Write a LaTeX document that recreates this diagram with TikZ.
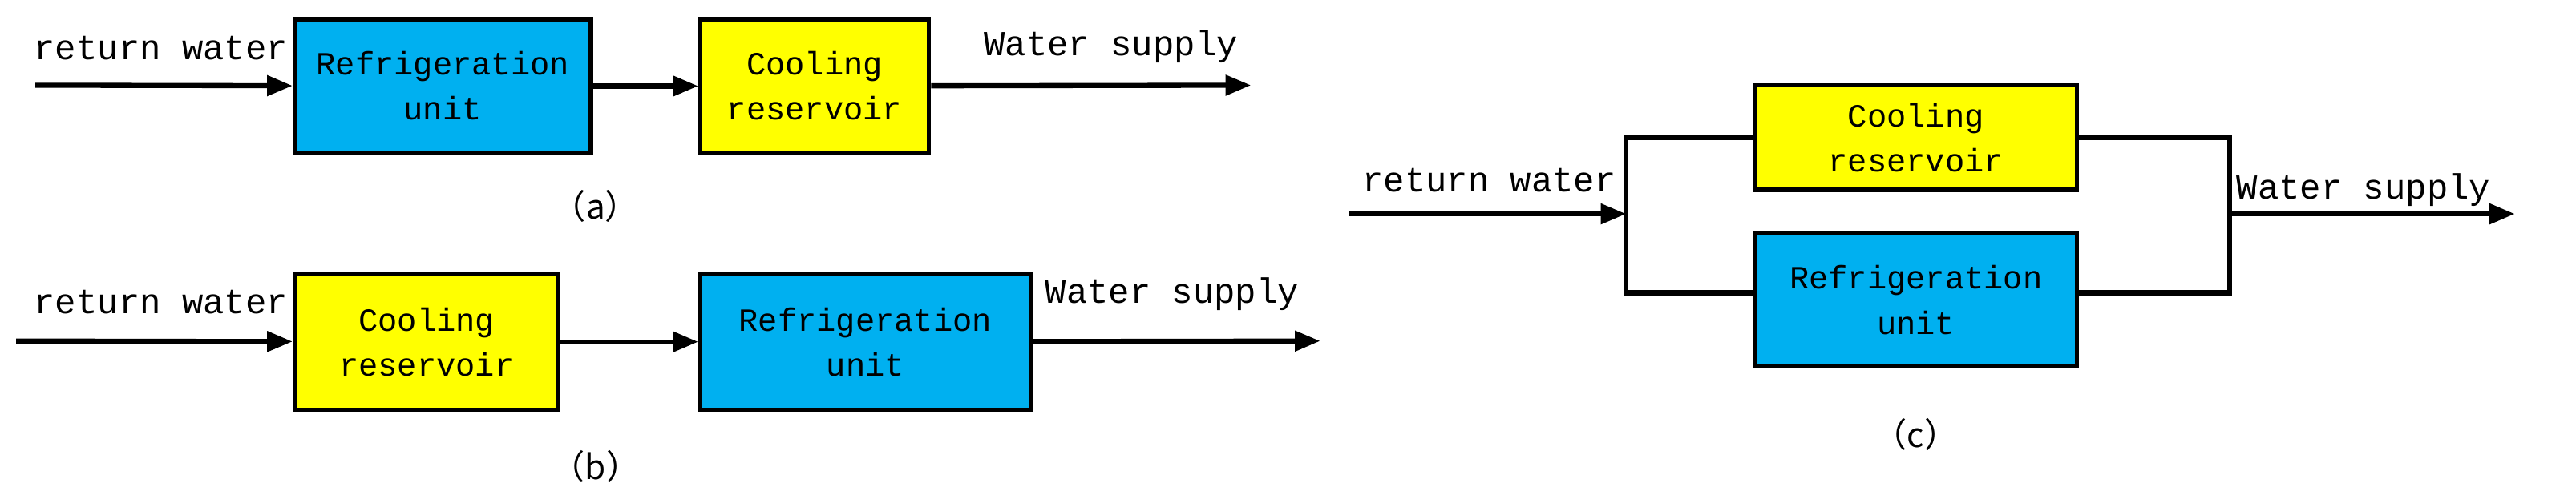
\documentclass[tikz,border=0pt]{standalone}
\usepackage{fontspec}
\setmainfont{Liberation Mono}
\newfontfamily\cjk{Noto Sans CJK SC}
\usetikzlibrary{arrows.meta}
\definecolor{cblue}{RGB}{0,176,240}
\definecolor{cyel}{RGB}{255,255,0}
\begin{document}
\begin{tikzpicture}[x=0.02008cm,y=-0.02008cm,
  font=\fontsize{12.5}{15}\selectfont,
  box/.style={draw=black,line width=1.5pt,align=center,inner sep=0pt,font=\fontsize{11.5}{16}\selectfont},
  ln/.style={line width=1.8pt},
  ar/.style={ln,-{Triangle[length=9pt,width=7pt]}},
  lbl/.style={inner sep=0pt},
  sublbl/.style={font=\cjk\fontsize{12}{14}\selectfont,inner sep=0pt}]
\useasboundingbox (0,0) rectangle (1600,310);
% (a)
\node[box,fill=cblue,minimum width=184*0.02008cm,minimum height=83*0.02008cm] (a1) at (275,53.5) {Refrigeration\\unit};
\node[box,fill=cyel,minimum width=142*0.02008cm,minimum height=83*0.02008cm] (a2) at (506,53.5) {Cooling\\reservoir};
\coordinate (ain) at (22,53);
\coordinate (aout) at (777,53);
\draw[ar] (ain) -- (a1);
\draw[ar] (a1) -- (a2);
\draw[ar] (a2) -- (aout);
\node[lbl] (ta1) at (100,30) {return water};
\node[lbl] (ta2) at (690,29) {Water supply};
\node[sublbl] (ca) at (370,128) {（a）};
% (b)
\node[box,fill=cyel,minimum width=164*0.02008cm,minimum height=85*0.02008cm] (b1) at (265,212.5) {Cooling\\reservoir};
\node[box,fill=cblue,minimum width=205*0.02008cm,minimum height=85*0.02008cm] (b2) at (537.5,212.5) {Refrigeration\\unit};
\coordinate (bin) at (10,212);
\coordinate (bout) at (820,212);
\draw[ar] (bin) -- (b1);
\draw[ar] (b1) -- (b2);
\draw[ar] (b2) -- (bout);
\node[lbl] (tb1) at (100,188) {return water};
\node[lbl] (tb2) at (728,183) {Water supply};
\node[sublbl] (cb) at (370,290) {（b）};
% (c)
\node[box,fill=cyel,minimum width=200*0.02008cm,minimum height=65*0.02008cm] (c1) at (1190,85.5) {Cooling\\reservoir};
\node[box,fill=cblue,minimum width=200*0.02008cm,minimum height=83*0.02008cm] (c2) at (1190,186.5) {Refrigeration\\unit};
\coordinate (cin) at (838,133);
\coordinate (cl) at (1010,133);
\coordinate (clt) at (1010,85.5);
\coordinate (clb) at (1010,182);
\coordinate (crt) at (1385,85.5);
\coordinate (crb) at (1385,182);
\coordinate (cr) at (1385,133);
\coordinate (cout) at (1562,133);
\draw[ar] (cin) -- (cl);
\draw[ln] (c1.west) -- (clt) -- (clb) -- (c2.west |- clb);
\draw[ln] (c1.east) -- (crt) -- (crb) -- (c2.east |- crb);
\draw[ar] (cr) -- (cout);
\node[lbl] (tc1) at (925,112) {return water};
\node[lbl] (tc2) at (1468,118) {Water supply};
\node[sublbl] (cc) at (1190,270) {（c）};
\end{tikzpicture}
\end{document}
